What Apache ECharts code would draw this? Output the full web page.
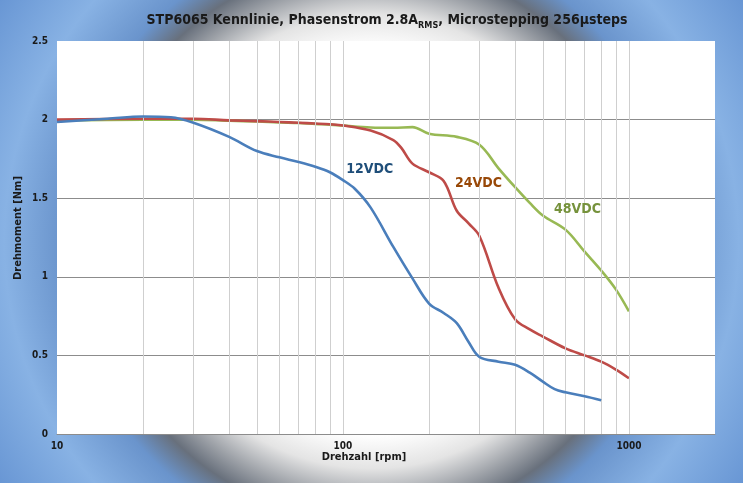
<!DOCTYPE html>
<html>
<head>
<meta charset="utf-8">
<script src="https://cdn.jsdelivr.net/npm/echarts@6/dist/echarts.min.js"></script>
<style>html,body{margin:0;padding:0;}#c{width:743px;height:483px;}</style>
</head>
<body>
<div id="c"></div>
<script>
// ---- data ----
const rpm12 = [10, 15, 20, 25, 30, 40, 50, 60, 70, 80, 90, 100, 110, 125, 150, 175, 200, 225, 250, 275, 300, 350, 400, 450, 500, 550, 600, 700, 800];
const torque12 = [1.985, 2.005, 2.02, 2.015, 1.98, 1.89, 1.80, 1.76, 1.73, 1.70, 1.665, 1.615, 1.56, 1.44, 1.19, 0.99, 0.83, 0.77, 0.705, 0.585, 0.49, 0.46, 0.44, 0.39, 0.333, 0.285, 0.265, 0.24, 0.215];
const rpm24 = [10, 20, 30, 40, 50, 60, 70, 80, 90, 100, 125, 150, 160, 175, 200, 225, 250, 275, 300, 350, 400, 450, 500, 600, 700, 800, 900, 1000];
const torque24 = [2.0, 2.005, 2.005, 1.995, 1.99, 1.985, 1.98, 1.975, 1.97, 1.963, 1.93, 1.87, 1.82, 1.72, 1.665, 1.61, 1.42, 1.34, 1.26, 0.93, 0.73, 0.665, 0.62, 0.545, 0.50, 0.46, 0.41, 0.355];
const rpm48 = [10, 20, 30, 40, 50, 60, 70, 80, 90, 100, 125, 150, 175, 200, 250, 300, 350, 400, 450, 500, 600, 700, 800, 900, 1000];
const torque48 = [1.995, 2.0, 2.0, 1.993, 1.988, 1.982, 1.978, 1.972, 1.968, 1.962, 1.95, 1.948, 1.952, 1.91, 1.89, 1.84, 1.69, 1.57, 1.47, 1.39, 1.30, 1.16, 1.04, 0.92, 0.78];
const seriesNames = ['12VDC', '24VDC', '48VDC'];
const labelAnchors = [[124, 1.686], [298, 1.597], [661, 1.431]];
const xTickLabels = [10, 100, 1000];
const xGridValues = [20, 30, 40, 50, 60, 70, 80, 90, 100, 200, 300, 400, 500, 600, 700, 800, 900, 1000];
const yTicks = [0, 0.5, 1, 1.5, 2, 2.5];

const lineColors = ['#4a7ebb', '#be4b48', '#98b954'];
const labelColors = ['#1f4e79', '#984807', '#76923c'];
const xsets = [rpm12, rpm24, rpm48];
const ysets = [torque12, torque24, torque48];
const FONT = 'DejaVu Sans Condensed';

const chart = echarts.init(document.getElementById('c'), null, {renderer: 'canvas'});

const series = [];
// vertical gridlines through the axis scale
series.push({
  type: 'line', data: [], silent: true,
  markLine: {
    silent: true, symbol: 'none', label: {show: false},
    lineStyle: {color: '#cfcfcf', width: 1, type: 'solid'},
    data: xGridValues.map(v => ({xAxis: v}))
  }
});
for (let i = 0; i < 3; i++) {
  series.push({
    name: seriesNames[i], type: 'line', smooth: 0.35, showSymbol: false, symbol: 'none',
    lineStyle: {color: lineColors[i], width: 2.6},
    data: xsets[i].map((x, j) => [x, ysets[i][j]]),
    z: 3 + (2 - i),
    markPoint: {
      symbol: 'circle', symbolSize: 0,
      label: {show: true, position: 'inside', formatter: seriesNames[i], color: labelColors[i],
        fontFamily: FONT, fontWeight: 'bold', fontSize: 14},
      data: [{coord: labelAnchors[i]}]
    }
  });
}

const gridCol = '#8c8c8c';
chart.setOption({
  animation: false,
  backgroundColor: {
    type: 'radial', x: 0.5, y: 0.5, r: 1,
    colorStops: [
      {offset: 0, color: '#ffffff'},
      {offset: 0.40, color: '#ffffff'},
      {offset: 0.47, color: '#e4e4e4'},
      {offset: 0.53, color: '#a0a4aa'},
      {offset: 0.58, color: '#68707c'},
      {offset: 0.64, color: '#6a94cc'},
      {offset: 0.76, color: '#88b2e4'},
      {offset: 0.92, color: '#6896d4'},
      {offset: 1, color: '#5886c4'}
    ]
  },
  grid: {left: 57, top: 41, right: 28, bottom: 49, show: true, backgroundColor: '#ffffff', borderWidth: 0, containLabel: false},
  xAxis: {
    type: 'log', logBase: 10, min: 10, max: 2000,
    axisLine: {show: true, lineStyle: {color: gridCol}},
    axisTick: {show: false},
    splitLine: {show: false},
    axisLabel: {
      margin: 7, color: '#1a1a1a', fontFamily: FONT, fontWeight: 'bold', fontSize: 10,
      formatter: v => (xTickLabels.indexOf(Math.round(v)) >= 0 ? String(Math.round(v)) : '')
    }
  },
  yAxis: {
    type: 'value', min: 0, max: 2.5, interval: 0.5,
    axisLine: {show: false}, axisTick: {show: false},
    splitLine: {show: true, lineStyle: {color: [gridCol, gridCol, gridCol, gridCol, gridCol, 'rgba(0,0,0,0)'], width: 1}},
    axisLabel: {margin: 9, color: '#1a1a1a', fontFamily: FONT, fontWeight: 'bold', fontSize: 10,
      formatter: v => String(yTicks.find(t => Math.abs(t - v) < 1e-9) ?? v)}
  },
  graphic: [
    {type: 'text', x: 387, y: 18, style: {
      text: '{a|STP6065 Kennlinie, Phasenstrom 2.8A}{b|RMS}{a|, Microstepping 256µsteps}',
      textAlign: 'center', textVerticalAlign: 'middle',
      rich: {
        a: {fontFamily: FONT, fontWeight: 'bold', fontSize: 14, fill: '#1a1a1a', verticalAlign: 'bottom', lineHeight: 18},
        b: {fontFamily: FONT, fontWeight: 'bold', fontSize: 9, fill: '#1a1a1a', verticalAlign: 'bottom', padding: [0, 0, -3, 0], lineHeight: 18}
      }
    }},
    {type: 'text', x: 364, y: 457, style: {text: 'Drehzahl [rpm]', textAlign: 'center', textVerticalAlign: 'middle',
      fontFamily: FONT, fontWeight: 'bold', fontSize: 11, fill: '#1a1a1a'}},
    {type: 'text', x: 18, y: 228, rotation: Math.PI / 2, style: {text: 'Drehmoment [Nm]', textAlign: 'center', textVerticalAlign: 'middle',
      fontFamily: FONT, fontWeight: 'bold', fontSize: 11, fill: '#1a1a1a'}}
  ],
  series: series
});
</script>
</body>
</html>
